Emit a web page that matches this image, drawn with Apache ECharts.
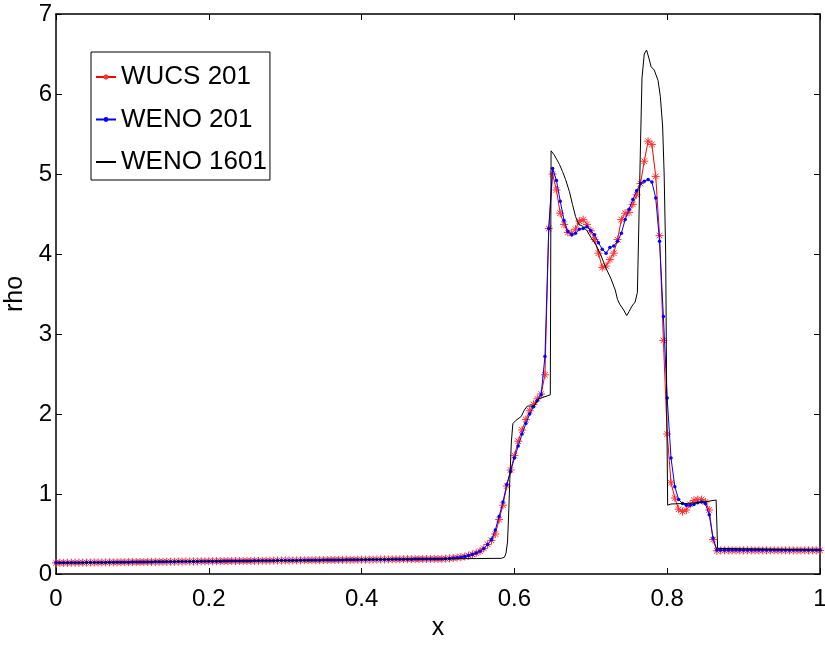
<!DOCTYPE html>
<html>
<head>
<meta charset="utf-8">
<script src="https://cdn.jsdelivr.net/npm/echarts@6/dist/echarts.min.js"></script>
<style>
html, body { margin: 0; padding: 0; background: #fff; }
#chart { width: 825px; height: 648px; }
</style>
</head>
<body>
<div id="chart"></div>
<script>
// 201点网格, dx = 0.005, 每行10个值
const rhoWUCS = [
  0.140, 0.140, 0.140, 0.140, 0.141, 0.141, 0.142, 0.142, 0.143, 0.143, // 0.00
  0.144, 0.144, 0.145, 0.145, 0.146, 0.146, 0.147, 0.147, 0.148, 0.148, // 0.05
  0.149, 0.149, 0.150, 0.150, 0.151, 0.151, 0.152, 0.152, 0.153, 0.153, // 0.10
  0.154, 0.154, 0.155, 0.155, 0.156, 0.156, 0.157, 0.157, 0.158, 0.158, // 0.15
  0.159, 0.159, 0.160, 0.160, 0.161, 0.161, 0.162, 0.162, 0.163, 0.163, // 0.20
  0.164, 0.164, 0.165, 0.165, 0.166, 0.166, 0.167, 0.167, 0.168, 0.168, // 0.25
  0.169, 0.169, 0.170, 0.170, 0.171, 0.171, 0.172, 0.172, 0.173, 0.173, // 0.30
  0.174, 0.174, 0.175, 0.175, 0.176, 0.176, 0.177, 0.177, 0.178, 0.178, // 0.35
  0.179, 0.179, 0.180, 0.180, 0.181, 0.181, 0.182, 0.182, 0.183, 0.183, // 0.40
  0.184, 0.184, 0.185, 0.185, 0.186, 0.186, 0.187, 0.187, 0.188, 0.188, // 0.45
  0.189, 0.189, 0.192, 0.195, 0.199, 0.204, 0.210, 0.218, 0.230, 0.245, // 0.50
  0.262, 0.285, 0.320, 0.370, 0.420, 0.500, 0.680, 0.860, 1.100, 1.300, // 0.55
  1.480, 1.660, 1.800, 1.930, 2.040, 2.120, 2.190, 2.250, 2.490, 4.320, // 0.60
  5.000, 4.800, 4.510, 4.370, 4.270, 4.260, 4.310, 4.410, 4.430, 4.370, // 0.65
  4.290, 4.180, 4.010, 3.830, 3.850, 3.930, 4.010, 4.180, 4.430, 4.510, // 0.70
  4.520, 4.620, 4.740, 4.880, 5.160, 5.410, 5.370, 4.970, 4.230, 2.920, // 0.75
  1.750, 1.140, 0.950, 0.810, 0.780, 0.800, 0.870, 0.920, 0.930, 0.930, // 0.80
  0.900, 0.800, 0.430, 0.290, 0.295, 0.295, 0.295, 0.295, 0.295, 0.295, // 0.85
  0.295, 0.295, 0.295, 0.295, 0.295, 0.295, 0.295, 0.295, 0.295, 0.295, // 0.90
  0.295, 0.295, 0.295, 0.295, 0.295, 0.295, 0.295, 0.295, 0.295, 0.295, // 0.95
  0.295                                                                  // 1.00
];
const rhoWENO = [
  0.140, 0.140, 0.140, 0.140, 0.141, 0.141, 0.142, 0.142, 0.143, 0.143,
  0.144, 0.144, 0.145, 0.145, 0.146, 0.146, 0.147, 0.147, 0.148, 0.148,
  0.149, 0.149, 0.150, 0.150, 0.151, 0.151, 0.152, 0.152, 0.153, 0.153,
  0.154, 0.154, 0.155, 0.155, 0.156, 0.156, 0.157, 0.157, 0.158, 0.158,
  0.159, 0.159, 0.160, 0.160, 0.161, 0.161, 0.162, 0.162, 0.163, 0.163,
  0.164, 0.164, 0.165, 0.165, 0.166, 0.166, 0.167, 0.167, 0.168, 0.168,
  0.169, 0.169, 0.170, 0.170, 0.171, 0.171, 0.172, 0.172, 0.173, 0.173,
  0.174, 0.174, 0.175, 0.175, 0.176, 0.176, 0.177, 0.177, 0.178, 0.178,
  0.179, 0.179, 0.180, 0.180, 0.181, 0.181, 0.182, 0.182, 0.183, 0.183,
  0.184, 0.184, 0.185, 0.185, 0.186, 0.186, 0.187, 0.187, 0.188, 0.188,
  0.189, 0.189, 0.192, 0.195, 0.199, 0.204, 0.210, 0.218, 0.230, 0.245,
  0.262, 0.285, 0.320, 0.370, 0.430, 0.550, 0.720, 0.900, 1.120, 1.280,
  1.450, 1.600, 1.750, 1.880, 2.000, 2.090, 2.170, 2.240, 2.720, 4.320,
  5.070, 4.920, 4.660, 4.420, 4.280, 4.240, 4.260, 4.310, 4.320, 4.340,
  4.290, 4.240, 4.140, 4.060, 4.010, 4.080, 4.100, 4.160, 4.260, 4.430,
  4.560, 4.680, 4.790, 4.880, 4.910, 4.930, 4.900, 4.700, 4.160, 3.220,
  2.200, 1.450, 1.090, 0.930, 0.880, 0.860, 0.860, 0.870, 0.890, 0.900,
  0.880, 0.740, 0.450, 0.300, 0.300, 0.300, 0.300, 0.300, 0.300, 0.300,
  0.300, 0.300, 0.300, 0.300, 0.300, 0.300, 0.300, 0.300, 0.300, 0.300,
  0.300, 0.300, 0.300, 0.300, 0.300, 0.300, 0.300, 0.300, 0.300, 0.300,
  0.300
];
// 1601点解, 只取折点
const xFine = [
  0, 0.1, 0.2, 0.3, 0.4, 0.5, 0.55, 0.583, 0.587, 0.589, 0.591, 0.5925, 0.594, 0.596, 0.598,
  0.602, 0.609, 0.613, 0.617, 0.626, 0.632, 0.647, 0.648, 0.650, 0.652, 0.6545, 0.659, 0.663,
  0.667, 0.672, 0.676, 0.680, 0.684, 0.689, 0.695, 0.700, 0.707, 0.713, 0.720, 0.726, 0.732,
  0.735, 0.738, 0.743, 0.747, 0.750, 0.754, 0.758, 0.761, 0.7625, 0.765, 0.767, 0.770, 0.773,
  0.776, 0.779, 0.783, 0.788, 0.791, 0.794, 0.796, 0.798, 0.7995, 0.8006, 0.805, 0.831, 0.851,
  0.864, 0.866, 0.868, 1.0
];
const rhoFine = [
  0.140, 0.149, 0.159, 0.169, 0.179, 0.189, 0.193, 0.196, 0.21, 0.26, 0.40, 0.75, 1.18, 1.65, 1.88,
  1.92, 1.97, 2.05, 2.10, 2.10, 2.19, 2.24, 5.29, 5.30, 5.24, 5.22, 5.12, 5.03,
  4.93, 4.78, 4.62, 4.47, 4.37, 4.35, 4.29, 4.21, 4.11, 3.99, 3.82, 3.70, 3.55,
  3.43, 3.37, 3.30, 3.23, 3.28, 3.35, 3.40, 3.52, 4.20, 5.35, 6.20, 6.50, 6.55,
  6.45, 6.34, 6.30, 6.17, 5.97, 5.60, 5.00, 4.00, 2.00, 0.86, 0.875, 0.885, 0.905,
  0.925, 0.32, 0.30, 0.30
];
const xTicks = [0, 0.2, 0.4, 0.6, 0.8, 1];
const yTicks = [0, 1, 2, 3, 4, 5, 6, 7];

const dx = 0.005;
const xGrid = rhoWENO.map((_, i) => +(i * dx).toFixed(3));
const pairs = (xs, ys) => ys.map((y, i) => [xs[i], y]);

const fontFam = 'Liberation Sans, Arial, sans-serif';
const star = 'path://M0,-1L0,1M-1,0L1,0M-0.7,-0.7L0.7,0.7M-0.7,0.7L0.7,-0.7';

function frameAxis(pos, isX, showLabel){
  return {
    type: 'value',
    position: pos,
    min: isX ? xTicks[0] : yTicks[0],
    max: isX ? xTicks[xTicks.length-1] : yTicks[yTicks.length-1],
    interval: isX ? 0.2 : 1,
    axisLine: { show: true, onZero: false, lineStyle: { color: '#000', width: 1.5 } },
    axisTick: { show: true, inside: true, length: 6, lineStyle: { color: '#000', width: 1 } },
    axisLabel: { show: showLabel, color: '#000', fontSize: 24, fontFamily: fontFam, margin: isX ? 13 : 4 },
    splitLine: { show: false }
  };
}

let myChart = echarts.init(document.getElementById('chart'));
let xMain = frameAxis('bottom', true, true);
xMain.name = 'x';
xMain.nameLocation = 'middle';
xMain.nameGap = 41;
xMain.nameTextStyle = { color: '#000', fontSize: 25, fontFamily: fontFam };
let yMain = frameAxis('left', false, true);
yMain.name = 'rho';
yMain.nameLocation = 'middle';
yMain.nameGap = 25;
yMain.nameTextStyle = { color: '#000', fontSize: 25, fontFamily: fontFam };

let option = {
  animation: false,
  backgroundColor: '#fff',
  grid: { left: 56, right: 5, top: 14, bottom: 74, containLabel: false, outerBoundsMode: 'none' },
  xAxis: [xMain, frameAxis('top', true, false)],
  yAxis: [yMain, frameAxis('right', false, false)],
  legend: {
    left: 91,
    top: 52,
    orient: 'vertical',
    selectedMode: false,
    backgroundColor: '#fff',
    borderColor: '#000',
    borderWidth: 1,
    padding: [10, 3, 3, 4],
    itemGap: 12.5,
    itemWidth: 20,
    itemHeight: 6,
    textStyle: { color: '#000', fontSize: 26, fontFamily: fontFam, lineHeight: 30 },
    data: [
      'WUCS 201',
      'WENO 201',
      { name: 'WENO 1601', itemStyle: { color: 'rgba(0,0,0,0)', borderWidth: 0 } }
    ]
  },
  series: [
    {
      name: 'WUCS 201',
      type: 'line',
      data: pairs(xGrid, rhoWUCS),
      symbol: star,
      symbolSize: 8,
      itemStyle: { color: '#ff0000', borderColor: '#ff3030', borderWidth: 1 },
      lineStyle: { color: '#ff0000', width: 1 },
      z: 2
    },
    {
      name: 'WENO 201',
      type: 'line',
      data: pairs(xGrid, rhoWENO),
      symbol: 'circle',
      symbolSize: 3.5,
      itemStyle: { color: '#0000ff', borderWidth: 0 },
      lineStyle: { color: '#0000ff', width: 1 },
      z: 3
    },
    {
      name: 'WENO 1601',
      type: 'line',
      data: pairs(xFine, rhoFine),
      symbol: 'none',
      itemStyle: { color: '#000' },
      lineStyle: { color: '#000', width: 1 },
      z: 4
    }
  ]
};
myChart.setOption(option);
</script>
</body>
</html>
